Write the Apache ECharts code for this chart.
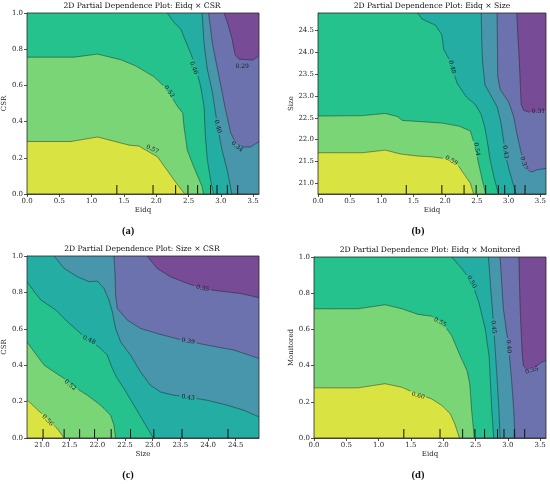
<!DOCTYPE html>
<html>
<head>
<meta charset="utf-8">
<script src="https://cdn.jsdelivr.net/npm/echarts@6/dist/echarts.min.js"></script>
<style>
html, body { margin: 0; padding: 0; background: #fff; }
#chart { width: 550px; height: 484px; }
</style>
</head>
<body>
<div id="chart"></div>
<script>
// 坐标范围和刻度
var eidqRange = [0, 3.59];
var unitRange = [0, 1];
var sizeRangeB = [20.755, 24.9];
var sizeRangeC = [20.73, 24.92];

var eidqTicks = [0, 0.5, 1, 1.5, 2, 2.5, 3, 3.5];
var unitTicks = [0, 0.2, 0.4, 0.6, 0.8, 1];
var sizeTicks = [21, 21.5, 22, 22.5, 23, 23.5, 24, 24.5];

// 分位数刻度 (rug)
var eidqRug = [1.39, 1.95, 2.30, 2.49, 2.64, 2.84, 2.94, 3.10, 3.26];
var sizeRug = [21.02, 21.40, 21.68, 21.95, 22.25, 22.60, 23.02, 23.53, 24.36];

// 从低到高的填充颜色
var bandColors = ['#784b96', '#6b72ae', '#4896ab', '#23ada3', '#25c28e', '#79d575', '#d9e442'];

// 图(a) Eidq x CSR
var levelsA = [0.29, 0.34, 0.40, 0.46, 0.52, 0.57];
var linesA = [
	[[3.05, 1], [3.10, 0.95], [3.17, 0.86], [3.22, 0.77], [3.28, 0.745], [3.50, 0.74], [3.59, 0.765]],
	[[2.81, 1], [2.87, 0.83], [2.97, 0.65], [3.07, 0.47], [3.15, 0.34], [3.23, 0.28], [3.35, 0.26], [3.46, 0.26], [3.59, 0.29]],
	[[2.71, 1], [2.74, 0.83], [2.79, 0.69], [2.87, 0.56], [2.95, 0.37], [3.02, 0.24], [3.10, 0.13], [3.17, 0]],
	[[2.17, 1], [2.27, 0.95], [2.38, 0.91], [2.53, 0.78], [2.61, 0.70], [2.69, 0.59], [2.74, 0.48], [2.76, 0.32], [2.79, 0.19], [2.85, 0.06], [2.89, 0]],
	[[0, 0.756], [0.73, 0.756], [1.09, 0.773], [1.45, 0.742], [1.68, 0.708], [1.96, 0.649], [2.15, 0.585], [2.33, 0.483], [2.41, 0.447], [2.43, 0.37], [2.48, 0.243], [2.58, 0.15], [2.71, 0.04], [2.73, 0]],
	[[0, 0.29], [0.68, 0.29], [1.09, 0.315], [1.58, 0.27], [1.73, 0.265], [2.02, 0.205], [2.27, 0.08], [2.44, 0]]
];
var labelsA = [[3.33, 0.705, 0], [3.25, 0.262, 40], [2.95, 0.372, 75], [2.58, 0.696, 68], [2.20, 0.566, 55], [1.94, 0.247, 25]];

// 图(b) Eidq x Size
var levelsB = [0.31, 0.37, 0.43, 0.48, 0.54, 0.59];
var linesB = [
	[[3.13, 24.9], [3.15, 24.3], [3.17, 23.8], [3.19, 23.1], [3.20, 22.80], [3.24, 22.67], [3.32, 22.63], [3.45, 22.64], [3.59, 22.67]],
	[[2.82, 24.9], [2.83, 23.45], [2.87, 23.14], [3.00, 22.87], [3.08, 22.53], [3.13, 22.15], [3.19, 21.75], [3.24, 21.46], [3.30, 21.30], [3.37, 21.26], [3.45, 21.31], [3.59, 21.34]],
	[[2.57, 24.9], [2.58, 24.2], [2.59, 23.8], [2.63, 23.25], [2.72, 23.02], [2.82, 22.75], [2.88, 22.40], [2.92, 22.0], [2.96, 21.6], [3.01, 21.3], [3.07, 21.0], [3.12, 20.755]],
	[[1.57, 24.9], [1.64, 24.76], [1.85, 24.62], [1.95, 24.40], [1.98, 24.06], [2.06, 23.85], [2.11, 23.66], [2.19, 23.29], [2.34, 22.97], [2.48, 22.80], [2.57, 22.57], [2.63, 22.26], [2.67, 21.92], [2.71, 21.54], [2.77, 21.15], [2.84, 20.755]],
	[[0, 22.54], [0.7, 22.55], [1.06, 22.60], [1.25, 22.53], [1.33, 22.44], [1.95, 22.38], [2.22, 22.31], [2.40, 22.20], [2.45, 21.95], [2.49, 21.7], [2.54, 21.38], [2.59, 21.05], [2.64, 20.755]],
	[[0, 21.70], [0.7, 21.70], [1.06, 21.76], [1.3, 21.67], [1.6, 21.62], [1.77, 21.61], [1.98, 21.57], [2.14, 21.50], [2.22, 21.38], [2.29, 21.23], [2.40, 21.0], [2.45, 20.755]]
];
var labelsB = [[3.47, 22.64, 0], [3.24, 21.46, 72], [2.95, 21.72, 82], [2.11, 23.66, 75], [2.50, 21.78, 82], [2.10, 21.52, 30]];

// 图(c) Size x CSR
var levelsC = [0.35, 0.39, 0.43, 0.48, 0.52, 0.56];
var linesC = [
	[[22.90, 1.0], [23.08, 0.932], [23.32, 0.886], [23.62, 0.85], [23.93, 0.818], [24.23, 0.807], [24.59, 0.794], [24.92, 0.771]],
	[[22.30, 1.0], [22.32, 0.895], [22.33, 0.785], [22.36, 0.712], [22.54, 0.648], [22.78, 0.602], [23.08, 0.574], [23.53, 0.538], [23.99, 0.51], [24.47, 0.483], [24.92, 0.437]],
	[[21.22, 1.0], [21.40, 0.932], [21.64, 0.886], [21.85, 0.859], [22.0, 0.862], [22.12, 0.822], [22.21, 0.758], [22.27, 0.694], [22.33, 0.602], [22.42, 0.528], [22.60, 0.455], [22.78, 0.363], [22.96, 0.29], [23.14, 0.253], [23.38, 0.235], [23.62, 0.226], [23.99, 0.207], [24.35, 0.18], [24.65, 0.152], [24.92, 0.116]],
	[[20.73, 0.859], [20.86, 0.804], [20.98, 0.758], [21.25, 0.703], [21.46, 0.639], [21.70, 0.574], [21.85, 0.538], [22.06, 0.492], [22.18, 0.455], [22.27, 0.382], [22.36, 0.327], [22.48, 0.272], [22.66, 0.18], [22.84, 0.088], [23.01, 0]],
	[[20.73, 0.528], [20.86, 0.473], [21.04, 0.40], [21.22, 0.363], [21.40, 0.327], [21.58, 0.281], [21.82, 0.235], [22.06, 0.18], [22.24, 0.125], [22.30, 0.07], [22.33, 0]],
	[[20.73, 0.21], [20.92, 0.155], [21.1, 0.105], [21.28, 0.05], [21.40, 0]]
];
var labelsC = [[23.90, 0.822, 12], [23.64, 0.532, 10], [23.64, 0.222, 8], [21.85, 0.538, 25], [21.51, 0.29, 40], [21.10, 0.097, 45]];

// 图(d) Eidq x Monitored
var levelsD = [0.35, 0.40, 0.45, 0.50, 0.55, 0.60];
var linesD = [
	[[3.17, 1.0], [3.19, 0.714], [3.22, 0.474], [3.24, 0.40], [3.30, 0.375], [3.45, 0.40], [3.53, 0.42], [3.59, 0.428]],
	[[2.88, 1.0], [2.93, 0.714], [3.01, 0.511], [3.06, 0.308], [3.09, 0.16], [3.11, 0]],
	[[2.70, 1.0], [2.74, 0.80], [2.78, 0.62], [2.83, 0.345], [2.86, 0.16], [2.88, 0]],
	[[2.13, 1.0], [2.29, 0.935], [2.44, 0.862], [2.55, 0.751], [2.65, 0.603], [2.71, 0.45], [2.73, 0.308], [2.75, 0.16], [2.78, 0]],
	[[0, 0.714], [0.68, 0.714], [1.10, 0.736], [1.36, 0.714], [1.61, 0.683], [1.82, 0.673], [1.98, 0.640], [2.13, 0.566], [2.26, 0.456], [2.37, 0.37], [2.41, 0.30], [2.44, 0.15], [2.48, 0]],
	[[0, 0.277], [0.68, 0.277], [1.10, 0.30], [1.36, 0.28], [1.52, 0.255], [1.82, 0.216], [1.98, 0.179], [2.11, 0.133], [2.18, 0.077], [2.25, 0]]
];
var labelsD = [[3.37, 0.373, -15], [3.01, 0.505, 85], [2.78, 0.613, 85], [2.44, 0.862, 62], [1.95, 0.64, 30], [1.61, 0.234, 15]];

var panels = [
	{ title: '2D Partial Dependence Plot: Eidq × CSR', xName: 'Eidq', yName: 'CSR', xr: eidqRange, yr: unitRange,
		xTicks: eidqTicks, yTicks: unitTicks, levels: levelsA, lines: linesA, labels: labelsA, rug: eidqRug,
		grid: { left: 26, top: 13, width: 233, height: 181 }, yGap: 16, tx: 142, ty: 6.5, letter: '(a)', lx: 128, ly: 231 },
	{ title: '2D Partial Dependence Plot: Eidq × Size', xName: 'Eidq', yName: 'Size', xr: eidqRange, yr: sizeRangeB,
		xTicks: eidqTicks, yTicks: sizeTicks, levels: levelsB, lines: linesB, labels: labelsB, rug: eidqRug,
		grid: { left: 318, top: 13, width: 228, height: 181 }, yGap: 20, tx: 432, ty: 6.5, letter: '(b)', lx: 418, ly: 231 },
	{ title: '2D Partial Dependence Plot: Size × CSR', xName: 'Size', yName: 'CSR', xr: sizeRangeC, yr: unitRange,
		xTicks: sizeTicks, yTicks: unitTicks, levels: levelsC, lines: linesC, labels: labelsC, rug: sizeRug,
		grid: { left: 26, top: 256, width: 233, height: 182 }, yGap: 16, tx: 142, ty: 249.5, letter: '(c)', lx: 128, ly: 475 },
	{ title: '2D Partial Dependence Plot: Eidq × Monitored', xName: 'Eidq', yName: 'Monitored', xr: eidqRange, yr: unitRange,
		xTicks: eidqTicks, yTicks: unitTicks, levels: levelsD, lines: linesD, labels: labelsD, rug: eidqRug,
		grid: { left: 314, top: 257, width: 232, height: 181 }, yGap: 17, tx: 430, ty: 250.5, letter: '(d)', lx: 418, ly: 475 }
];

var serif = '"DejaVu Serif", serif';
var ink = '#262626';

// 把等值线闭合到左下角，得到 >= 该等级的区域
function closeLower(line, xr, yr) {
	var pts = line.slice();
	var first = pts[0], last = pts[pts.length - 1];
	if (Math.abs(last[0] - xr[1]) < 1e-6) pts.push([xr[1], yr[0]]);
	pts.push([xr[0], yr[0]]);
	if (Math.abs(first[1] - yr[1]) < 1e-6) pts.push([xr[0], yr[1]]);
	return pts;
}

// 在标签处断开线条 (像 clabel inline)
function splitAroundLabel(px, c, ang, hw, hh) {
	var runs = [], cur = [];
	var ca = Math.cos(ang), sa = Math.sin(ang);
	function inside(p) {
		var dx = p[0] - c[0], dy = p[1] - c[1];
		var u = dx * ca - dy * sa, v = dx * sa + dy * ca;
		return Math.abs(u) < hw && Math.abs(v) < hh;
	}
	for (var i = 0; i < px.length - 1; i++) {
		var a = px[i], b = px[i + 1];
		var len = Math.sqrt((b[0] - a[0]) * (b[0] - a[0]) + (b[1] - a[1]) * (b[1] - a[1]));
		var n = Math.max(1, Math.ceil(len));
		for (var s = 0; s < n; s++) {
			var t = s / n;
			var p = [a[0] + (b[0] - a[0]) * t, a[1] + (b[1] - a[1]) * t];
			if (inside(p)) {
				if (cur.length > 1) runs.push(cur);
				cur = [];
			} else {
				cur.push(p);
			}
		}
	}
	var end = px[px.length - 1];
	if (!inside(end)) cur.push(end);
	if (cur.length > 1) runs.push(cur);
	return runs;
}

var grids = [], xAxes = [], yAxes = [], series = [], graphics = [];

panels.forEach(function (p, k) {
	grids.push({ left: p.grid.left, top: p.grid.top, width: p.grid.width, height: p.grid.height,
		show: true, backgroundColor: bandColors[0], borderWidth: 0, containLabel: false });

	xAxes.push({
		type: 'value', gridIndex: k, min: p.xr[0], max: p.xr[1],
		name: p.xName, nameLocation: 'middle', nameGap: 13,
		nameTextStyle: { fontFamily: serif, fontSize: 7, color: ink, verticalAlign: 'top' },
		axisLine: { show: true, lineStyle: { color: ink, width: 0.8 } },
		axisTick: { show: true, length: 3, lineStyle: { color: ink, width: 0.8 }, customValues: p.xTicks },
		axisLabel: { fontFamily: serif, fontSize: 7, color: ink, margin: 4, customValues: p.xTicks,
			formatter: function (v) { return v.toFixed(1); } },
		splitLine: { show: false }
	});
	yAxes.push({
		type: 'value', gridIndex: k, min: p.yr[0], max: p.yr[1],
		name: p.yName, nameLocation: 'middle', nameGap: p.yGap,
		nameTextStyle: { fontFamily: serif, fontSize: 7, color: ink },
		axisLine: { show: true, lineStyle: { color: ink, width: 0.8 } },
		axisTick: { show: true, length: 3, lineStyle: { color: ink, width: 0.8 }, customValues: p.yTicks },
		axisLabel: { fontFamily: serif, fontSize: 7, color: ink, margin: 4, customValues: p.yTicks,
			formatter: function (v) { return v.toFixed(1); } },
		splitLine: { show: false }
	});

	// 填充区域
	series.push({
		type: 'custom', xAxisIndex: k, yAxisIndex: k, clip: true, silent: true, z: 2,
		data: p.lines.map(function (l) { return l[0]; }),
		renderItem: function (params, api) {
			var i = params.dataIndex;
			var pts = closeLower(p.lines[i], p.xr, p.yr).map(function (q) { return api.coord(q); });
			return { type: 'polygon', shape: { points: pts }, style: { fill: bandColors[i + 1] } };
		}
	});

	// 等值线和标签
	series.push({
		type: 'custom', xAxisIndex: k, yAxisIndex: k, clip: true, silent: true, z: 3,
		data: p.lines.map(function (l) { return l[0]; }),
		renderItem: function (params, api) {
			var i = params.dataIndex;
			var px = p.lines[i].map(function (q) { return api.coord(q); });
			var lab = p.labels[i];
			var c = api.coord([lab[0], lab[1]]);
			var ang = -lab[2] * Math.PI / 180;
			var runs = splitAroundLabel(px, c, ang, 8, 3);
			var children = runs.map(function (r) {
				return { type: 'polyline', shape: { points: r },
					style: { stroke: 'rgba(20,20,20,0.75)', lineWidth: 0.6, fill: null } };
			});
			children.push({ type: 'text', x: c[0], y: c[1], rotation: ang,
				style: { text: p.levels[i].toFixed(2), font: '6px ' + serif, fill: '#1a1a1a',
					align: 'center', verticalAlign: 'middle' } });
			return { type: 'group', children: children };
		}
	});

	// 分位数刻度
	series.push({
		type: 'custom', xAxisIndex: k, yAxisIndex: k, silent: true, z: 4,
		data: p.rug.map(function (v) { return [v, p.yr[0]]; }),
		renderItem: function (params, api) {
			var b = api.coord([api.value(0), p.yr[0]]);
			return { type: 'line', shape: { x1: b[0], y1: b[1], x2: b[0], y2: b[1] - 9 },
				style: { stroke: '#111', lineWidth: 1 } };
		}
	});

	// 边框
	series.push({
		type: 'custom', xAxisIndex: k, yAxisIndex: k, silent: true, z: 5,
		data: [[p.xr[0], p.yr[1]]],
		renderItem: function (params, api) {
			var tl = api.coord([p.xr[0], p.yr[1]]), br = api.coord([p.xr[1], p.yr[0]]);
			return { type: 'rect', shape: { x: tl[0], y: tl[1], width: br[0] - tl[0], height: br[1] - tl[1] },
				style: { fill: null, stroke: ink, lineWidth: 0.8 } };
		}
	});

	graphics.push({ type: 'text', x: p.tx, y: p.ty,
		style: { text: p.title, font: '7.6px ' + serif, fill: '#111', align: 'center', verticalAlign: 'middle' } });
	graphics.push({ type: 'text', x: p.lx, y: p.ly,
		style: { text: p.letter, font: 'bold 10.5px "Liberation Serif", serif', fill: '#111', align: 'center', verticalAlign: 'middle' } });
});

var chart = echarts.init(document.getElementById('chart'));
chart.setOption({
	animation: false,
	grid: grids,
	xAxis: xAxes,
	yAxis: yAxes,
	series: series,
	graphic: graphics
});
</script>
</body>
</html>
